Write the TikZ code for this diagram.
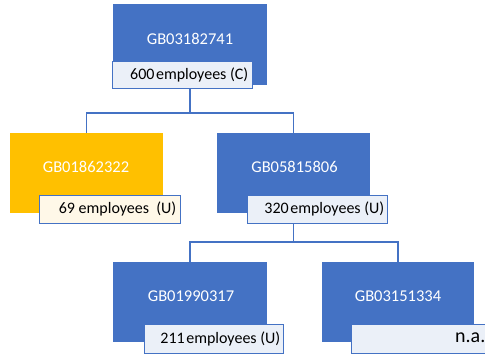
\documentclass[tikz,border=0pt]{standalone}
\usepackage{fontspec}
\setmainfont{Carlito}
\definecolor{cblue}{HTML}{4472C4}
\definecolor{cyel}{HTML}{FFC000}
\definecolor{lblue}{HTML}{EBF0F8}
\definecolor{lyel}{HTML}{FFF8E8}
\tikzset{
  box/.style={rectangle, inner sep=0pt, draw=none},
  bluebox/.style={box, fill=cblue},
  yelbox/.style={box, fill=cyel},
  lab/.style={rectangle, inner sep=0pt, draw=cblue, line width=1pt, fill=lblue},
  btext/.style={text=white, font=\fontsize{16.5}{18}\selectfont, inner sep=0pt},
  ltext/.style={text=black, font=\fontsize{16}{18}\selectfont, inner sep=0pt, anchor=east},
  conn/.style={draw=cblue, line width=1.2pt}
}
\begin{document}
\begin{tikzpicture}[x=1pt,y=-1pt]
\useasboundingbox (0,0) rectangle (485,354);
% boxes
\node[bluebox, minimum width=154pt, minimum height=81pt] (b0) at (190,44.5) {};
\node[yelbox,  minimum width=153pt, minimum height=80pt] (b1) at (86.5,173) {};
\node[bluebox, minimum width=153pt, minimum height=80pt] (b2) at (293.5,173) {};
\node[bluebox, minimum width=154pt, minimum height=80pt] (b3) at (190,302) {};
\node[bluebox, minimum width=152pt, minimum height=80pt] (b4) at (398,302) {};
% box texts
\node[btext] (t0) at (190,39) {GB03182741};
\node[btext] (t1) at (86,167) {GB01862322};
\node[btext] (t2) at (294.5,167) {GB05815806};
\node[btext] (t3) at (191,296) {GB01990317};
\node[btext] (t4) at (398,296) {GB03151334};
% labels
\node[lab, minimum width=140pt, minimum height=27pt] (l0) at (182,74.5) {};
\node[lab, fill=lyel, minimum width=141pt, minimum height=28pt] (l1) at (109.5,209) {};
\node[lab, minimum width=140pt, minimum height=28pt] (l2) at (317,209) {};
\node[lab, minimum width=139pt, minimum height=29pt] (l3) at (213.5,338.5) {};
\node[lab, minimum width=150pt, minimum height=29pt] (l4) at (426,338.5) {};
% label texts
\node[ltext] (s0) at ([xshift=-4pt]l0.east) {600\hspace{1.5pt}employees (C)};
\node[ltext] (s1) at ([xshift=-4pt]l1.east) {69 employees\ \ (U)};
\node[ltext] (s2) at ([xshift=-3pt]l2.east) {320\hspace{1.5pt}employees (U)};
\node[ltext] (s3) at ([xshift=-3pt]l3.east) {211\hspace{1.5pt}employees (U)};
\node[ltext, anchor=west, font=\fontsize{20}{22}\selectfont] (s4) at (455,338) {n.a.};
% connectors
\coordinate (j1) at (190,113);
\coordinate (j2) at (293.5,242);
\draw[conn] (b0.south |- l0.south) -- (j1);
\draw[conn] (j1) -| (b1.north);
\draw[conn] (j1) -| (b2.north);
\draw[conn] (b2.south |- l2.south) -- (j2);
\draw[conn] (j2) -| (b3.north);
\draw[conn] (j2) -| (b4.north);
\end{tikzpicture}
\end{document}
